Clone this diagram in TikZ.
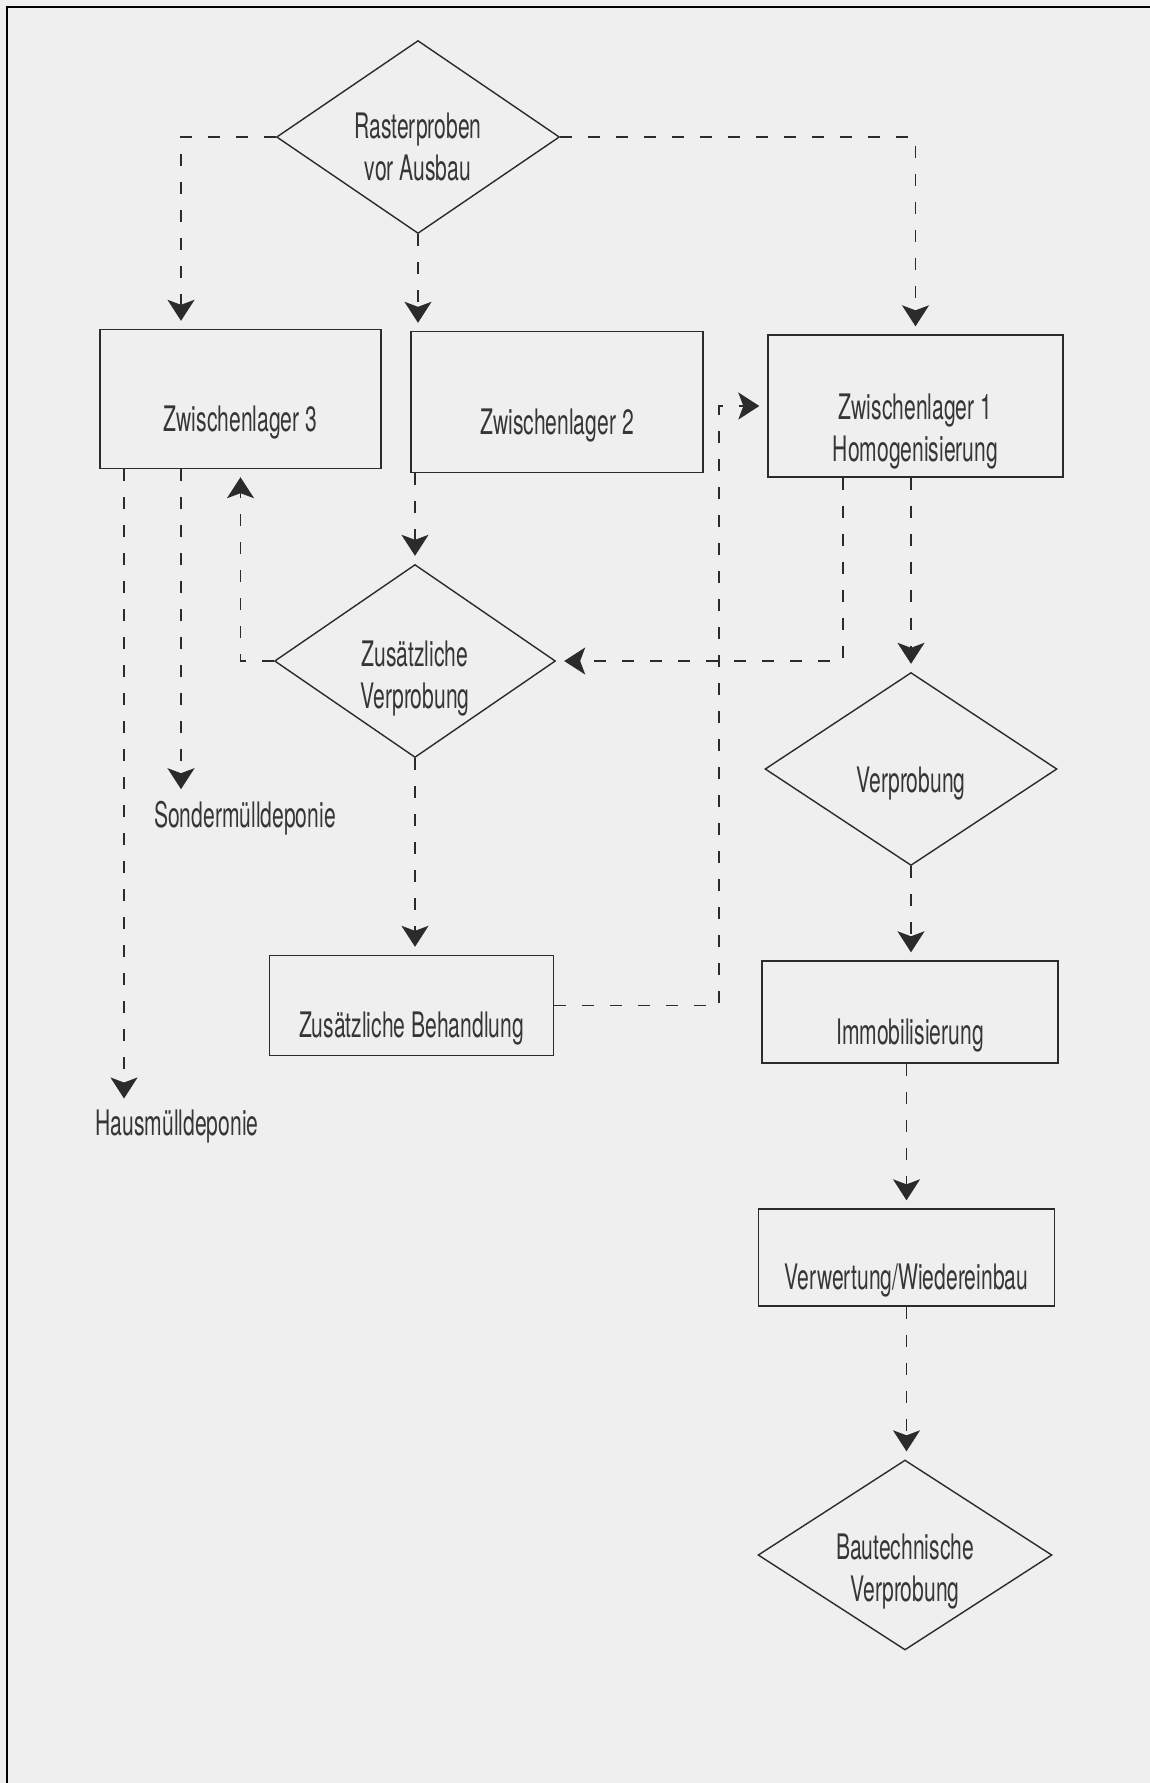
\documentclass[tikz,border=0pt]{standalone}
\usepackage{fontspec}
\setmainfont{TeX Gyre Heros}[FakeStretch=0.6]
\usetikzlibrary{arrows.meta, shapes.geometric, calc}
\definecolor{paper}{HTML}{EFEFEF}
\definecolor{ink}{HTML}{2B2B2B}
\definecolor{lettering}{HTML}{363636}
\newcommand\flowfont{\fontsize{20pt}{24pt}\selectfont}
\tikzset{
  box/.style   = {rectangle, draw=ink, line width=0.8pt, inner xsep=4pt, inner ysep=2pt,
                  align=center, text=lettering, font=\flowfont, text height=1.45cm},
  rhomb/.style = {diamond, draw=ink, line width=0.8pt, aspect=1.5, inner sep=-0.2cm,
                  align=center, text=lettering, font=\flowfont, text height=1.1cm},
  dump/.style  = {text=lettering, font=\flowfont, inner sep=2pt},
  flow/.style  = {-{Stealth[length=0.42cm, width=0.54cm, inset=0.1cm]}, draw=ink,
                  line width=1pt, dash pattern=on 0.24cm off 0.32cm, shorten >=0.16cm},
}

\begin{document}
\begin{tikzpicture}[x=0.02cm, y=-0.02cm]

  \fill[paper] (0,0) rectangle (1150,1783);
  \useasboundingbox (0,0) rectangle (1150,1783);
  \draw[black, line width=1.4pt] (7,1783) -- (7,7) -- (1150,7);

  % top row
  \node[rhomb, minimum width=5.66cm, minimum height=3.86cm, text height=1.75cm] (d0) at (418,137) {Rasterproben\\vor Ausbau};
  \node[box, minimum width=5.62cm, minimum height=2.78cm] (z3) at (240.5,399) {Zwischenlager 3};
  \node[box, minimum width=5.84cm, minimum height=2.82cm] (z2) at (557,402) {Zwischenlager 2};
  \node[box, minimum width=5.9cm, minimum height=2.84cm, text height=2.36cm] (z1) at (915.5,406) {Zwischenlager 1\\Homogenisierung};

  % middle
  \node[rhomb, minimum width=5.62cm, minimum height=3.86cm, text height=2.05cm] (d1) at (415,661) {Zusätzliche\\Verprobung};
  \node[rhomb, minimum width=5.84cm, minimum height=3.86cm] (d2) at (911,769) {Verprobung};
  \node[box, minimum width=5.68cm, minimum height=2.0cm] (zb) at (411.5,1005.5) {Zusätzliche Behandlung};
  \node[box, minimum width=5.92cm, minimum height=2.04cm] (imm) at (910,1012) {Immobilisierung};
  \node[dump] (sond) at (245,818) {Sondermülldeponie};
  \node[dump] (haus) at (177,1127) {Hausmülldeponie};

  % bottom
  \node[box, minimum width=5.92cm, minimum height=1.94cm] (verw) at (906.5,1257.5) {Verwertung/Wiedereinbau};
  \node[rhomb, minimum width=5.88cm, minimum height=3.8cm, text height=2.0cm] (d3) at (905,1555) {Bautechnische\\Verprobung};

  \coordinate (z3hm) at ([xshift=-2.33cm]z3.south);
  \coordinate (z3sm) at ([xshift=-1.19cm]z3.south);
  \coordinate (z1lo) at ([xshift=-1.45cm]z1.south);
  \coordinate (ret) at ([xshift=-0.96cm]z1.west);

  \draw[flow] (d0.west) -| (z3sm |- z3.north);
  \draw[flow] (d0.south) -- (d0.south |- z2.north);
  \draw[flow] (d0.east) -| (z1.north);
  \draw[flow] (d1.north |- z2.south) -- (d1.north);
  \draw[flow] (d1.west) -| (z3.south);
  \draw[flow] (z1lo) |- (d1.east);
  \draw[flow] (d2.north |- z1.south) -- (d2.north);
  \draw[flow] (d1.south) -- (d1.south |- zb.north);
  \draw[flow] (d2.south) -- (d2.south |- imm.north);
  \draw[flow] (zb.east) -| (ret) -- (z1.west);
  \draw[flow] (z3sm) -- (z3sm |- sond.north);
  \draw[flow] (z3hm) -- (z3hm |- haus.north);
  \draw[flow] (verw.north |- imm.south) -- (verw.north);
  \draw[flow] (verw.south) -- (verw.south |- d3.north);

\end{tikzpicture}
\end{document}
